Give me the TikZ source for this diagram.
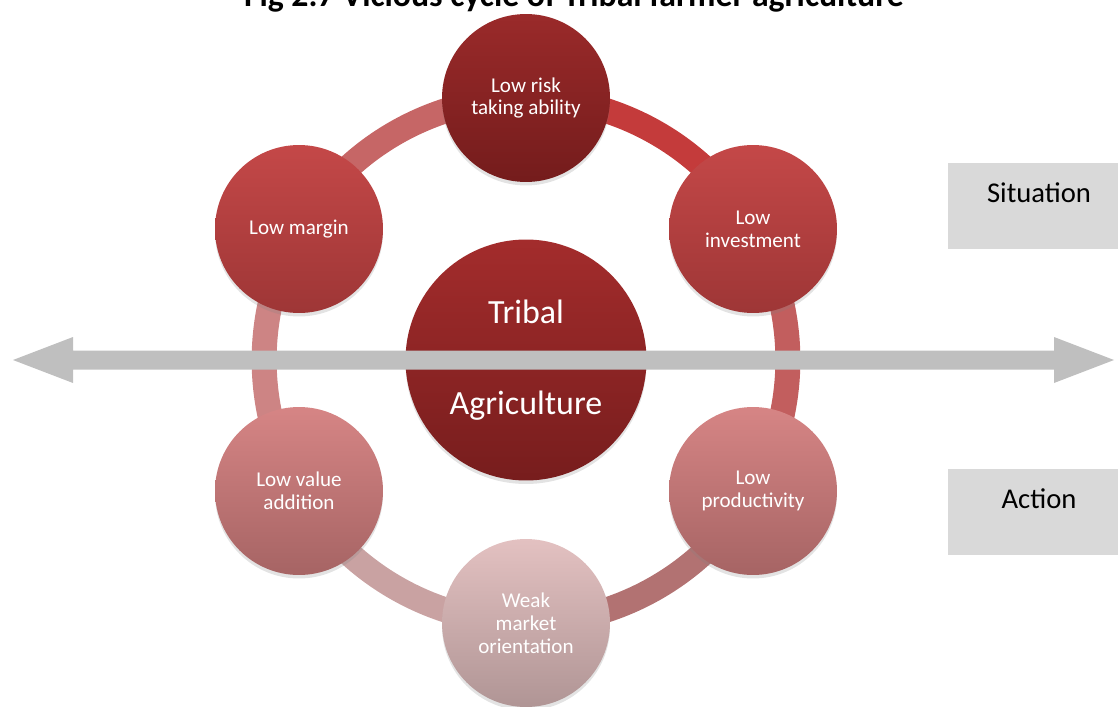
\documentclass[tikz,border=0pt]{standalone}
\usepackage{fontspec}
\setmainfont{Carlito}
\usetikzlibrary{shadows}
\pgfdeclarelayer{background}
\pgfsetlayers{background,main}
\definecolor{c1top}{HTML}{9A2A2A}\definecolor{c1bot}{HTML}{741C1C}
\definecolor{c2top}{HTML}{C44848}\definecolor{c2bot}{HTML}{9E3636}
\definecolor{c3top}{HTML}{D68585}\definecolor{c3bot}{HTML}{A66464}
\definecolor{c4top}{HTML}{E3C1C1}\definecolor{c4bot}{HTML}{B09595}
\definecolor{cctop}{HTML}{A32C2C}\definecolor{ccbot}{HTML}{771D1D}
\definecolor{segA}{HTML}{C43B3B}
\definecolor{segB}{HTML}{C25E5E}
\definecolor{segC}{HTML}{B27272}
\definecolor{segD}{HTML}{C9A2A2}
\definecolor{segE}{HTML}{CD8484}
\definecolor{segF}{HTML}{C66666}
\definecolor{arrowgray}{HTML}{BFBFBF}
\definecolor{boxgray}{HTML}{D9D9D9}
\begin{document}
\begin{tikzpicture}[x=0.02cm,y=-0.02cm,
  bub/.style={circle, minimum size=3.36cm, inner sep=0pt, align=center, text=white,
    font=\fontsize{12}{13}\selectfont,
    drop shadow={shadow xshift=0pt, shadow yshift=-0.07cm, opacity=0.22}},
  hub/.style={bub, minimum size=4.82cm, font=\fontsize{19.3}{52}\selectfont},
  seg/.style={line width=0.5cm, looseness=0.91},
  tag/.style={fill=boxgray, anchor=base, inner xsep=0pt, inner ysep=0pt,
    minimum width=3.64cm, text height=0.78cm, text depth=0.94cm,
    font=\fontsize{16.3}{19}\selectfont, text=black}
]
\useasboundingbox (0,0) rectangle (1118,706);
% title (cut by the top edge, as in the reference)
\node[anchor=base, font=\bfseries\fontsize{19.2}{22}\selectfont, inner sep=0pt] (title) at (574,7)
  {Fig 2.7 Vicious cycle of Tribal farmer agriculture};
% cycle nodes
\node[bub, top color=c1top, bottom color=c1bot] (t) at (526,98) {Low risk\\taking ability};
\node[bub, top color=c2top, bottom color=c2bot] (li) at (753,229) {Low\\investment};
\node[bub, top color=c3top, bottom color=c3bot] (lp) at (753,491) {Low\\productivity};
\node[bub, top color=c4top, bottom color=c4bot] (w) at (526,623) {Weak\\market\\orientation};
\node[bub, top color=c3top, bottom color=c3bot] (lva) at (299,491) {Low value\\addition};
\node[bub, top color=c2top, bottom color=c2bot] (lm) at (299,229) {Low margin};
\node[hub, top color=cctop, bottom color=ccbot] (hub) at (526,360) {Tribal\\Agriculture};
% ring
\begin{pgfonlayer}{background}
\draw[seg, segA] (t.center) to[bend left=30] (li.center);
\draw[seg, segB] (li.center) to[bend left=30] (lp.center);
\draw[seg, segC] (lp.center) to[bend left=30] (w.center);
\draw[seg, segD] (w.center) to[bend left=30] (lva.center);
\draw[seg, segE] (lva.center) to[bend left=30] (lm.center);
\draw[seg, segF] (lm.center) to[bend left=30] (t.center);
\end{pgfonlayer}
% double arrow
\fill[arrowgray] (13,360) -- (73,337) -- (73,350.5) -- (1054,350.5) -- (1054,337) -- (1114,360)
  -- (1054,383) -- (1054,369.5) -- (73,369.5) -- (73,383) -- cycle;
% labels
\node[tag] (sit) at (1039,202) {Situation};
\node[tag] (act) at (1039,508) {Action};
\end{tikzpicture}
\end{document}
